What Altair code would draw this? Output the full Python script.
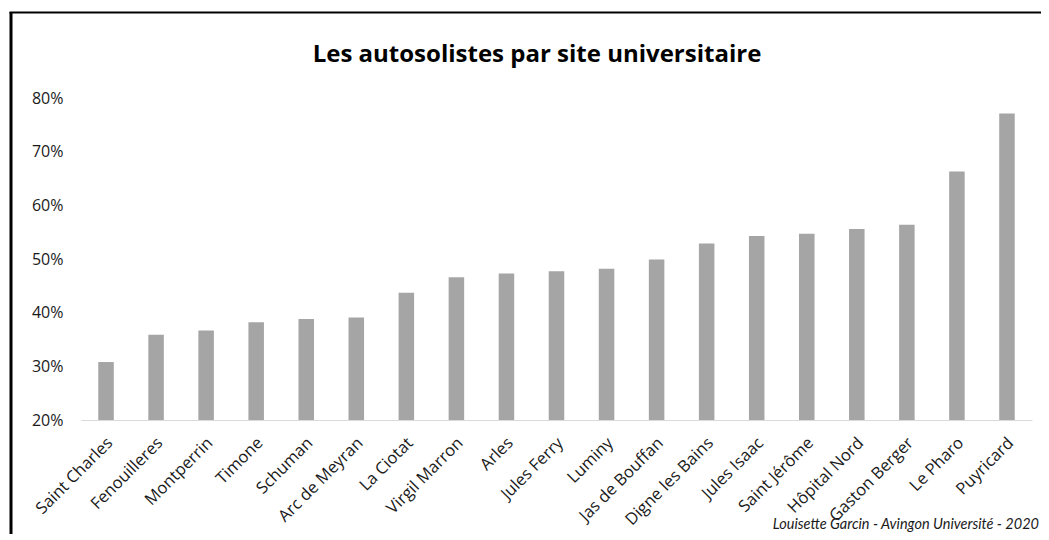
import altair as alt
import pandas as pd

sites = ["Saint Charles", "Fenouilleres", "Montperrin", "Timone", "Schuman",
         "Arc de Meyran", "La Ciotat", "Virgil Marron", "Arles", "Jules Ferry",
         "Luminy", "Jas de Bouffan", "Digne les Bains", "Jules Isaac",
         "Saint Jérôme", "Hôpital Nord", "Gaston Berger", "Le Pharo", "Puyricard"]
shares = [0.308, 0.359, 0.367, 0.382, 0.388, 0.391, 0.437, 0.466, 0.473, 0.477,
          0.482, 0.499, 0.529, 0.543, 0.547, 0.556, 0.564, 0.663, 0.771]
y_ticks = [0.2, 0.3, 0.4, 0.5, 0.6, 0.7, 0.8]
title_text = "Les autosolistes par site universitaire"
caption_text = "Louisette Garcin - Avingon Université - 2020"

df = pd.DataFrame({"site": sites, "share": shares})

W, H = 951, 322
PAD = {"left": 73, "top": 90, "right": 9, "bottom": 114}

bars = alt.Chart(df).mark_bar(color="#a5a5a5").encode(
    x=alt.X("site:N", sort=sites, title=None,
            scale=alt.Scale(paddingInner=0.69, paddingOuter=0.345),
            axis=alt.Axis(labelAngle=-45, labelAlign="right", labelBaseline="middle",
                          labelFont="Open Sans", labelFontSize=16.5, labelColor="#1a1a1a",
                          labelPadding=20, labelOffset=4, ticks=False,
                          domainColor="#d9d9d9", domainWidth=1.2, labelOverlap=False)),
    y=alt.Y("share:Q", title=None,
            scale=alt.Scale(domain=[0.2, 0.8], zero=False, nice=False),
            axis=alt.Axis(values=y_ticks, format=".0%", domain=False, ticks=False,
                          grid=False, labelFont="Open Sans", labelFontSize=16,
                          labelColor="#1a1a1a", labelPadding=18)),
    y2=alt.datum(0.2),
)

text_df = pd.DataFrame({"t": [title_text]})
title = alt.Chart(text_df).mark_text(
    align="center", baseline="alphabetic", font="Open Sans", fontSize=24,
    fontWeight="bold", color="black"
).encode(text="t:N", x=alt.value(456), y=alt.value(-36))

cap_df = pd.DataFrame({"t": [caption_text]})
caption = alt.Chart(cap_df).mark_text(
    align="right", baseline="alphabetic", font="Lato", fontStyle="italic",
    fontSize=14.5, color="#1a1a1a"
).encode(text="t:N", x=alt.value(958), y=alt.value(431))

frame_df = pd.DataFrame({"k": [1]})
left_border = alt.Chart(frame_df).mark_rule(color="black", strokeWidth=3).encode(
    x=alt.value(-70), y=alt.value(-86), y2=alt.value(600))
top_border = alt.Chart(frame_df).mark_rule(color="black", strokeWidth=2).encode(
    x=alt.value(-71.5), x2=alt.value(1100), y=alt.value(-85.5))

chart = alt.layer(bars, title, caption, left_border, top_border).properties(
    width=W, height=H,
    autosize=alt.AutoSizeParams(type="none"),
    padding=PAD,
    background="white",
).configure_view(stroke=None)

chart.save("out.html", embed_options={"renderer": "svg", "actions": False})
